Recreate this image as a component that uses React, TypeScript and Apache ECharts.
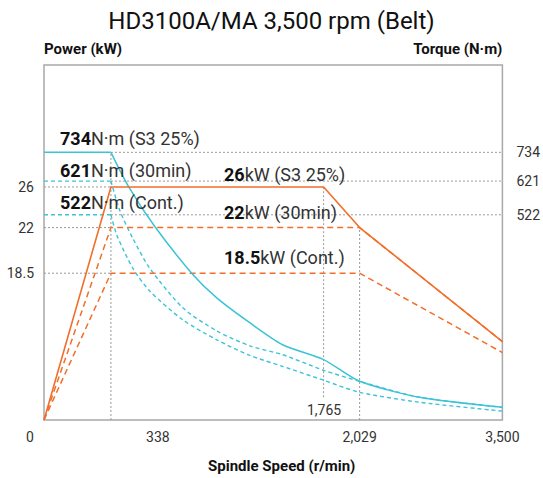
import React, { useEffect, useRef } from "react";
import * as echarts from "echarts";

const FONT = "Roboto, 'Noto Sans', 'DejaVu Sans', sans-serif";
const ORANGE = "#f26e2a";
const CYAN = "#3bc3d6";
const GUIDE = "#9a9a9a";

// Schematic speed axis (chart is not to scale): positions of the key speeds
const SPEED_MAX = 3500;
const SPEED_BASE = 511; // 338 r/min
const SPEED_TORQUE_BREAK = 2135; // 1,765 r/min
const SPEED_POWER_BREAK = 2410; // 2,029 r/min

const POWER_MAX = 40;
const TORQUE_MAX = 1000;

// Power levels as drawn (26 / 22 / 18.5 kW)
const POWER_LEVELS = [26.26, 21.68, 16.54];
const POWER_LABELS = ["26", "22", "18.5"];
// Torque levels as drawn (734 / 621 / 522 N·m)
const TORQUE_LEVELS = [754, 673, 578];
const TORQUE_LABELS = ["734", "621", "522"];

const X_TICK_VALUES = [0, 869, 2410, 3500];
const X_TICK_LABELS = ["0", "338", "2,029", "3,500"];

// Power curves [speed, kW]
const powerS3 = [[0, 0], [511, 26.26], [2135, 26.26], [2410, 21.68], [3500, 8.83]];
const power30 = [[0, 0], [511, 21.68], [2410, 21.68], [3500, 8.83]];
const powerCont = [[0, 0], [511, 16.54], [2410, 16.54], [3500, 7.6]];

// Torque curves [speed, N·m]
const torqueS3 = [
  [0, 754], [511, 754], [648, 656], [846, 545], [1129, 413], [1319, 344],
  [1571, 274], [1822, 212], [2135, 170], [2410, 109], [2867, 64], [3500, 36],
];
const torque30 = [
  [0, 673], [511, 673], [580, 589], [679, 511], [808, 427], [1060, 316], [1319, 251],
  [1571, 209], [1822, 184], [2135, 140], [2410, 109], [2867, 64], [3500, 36],
];
const torqueCont = [
  [0, 578], [511, 578], [557, 520], [679, 427], [808, 363], [1060, 282], [1319, 226],
  [1571, 182], [1822, 151], [2135, 112], [2410, 78], [2867, 50], [3500, 25],
];

const ANNOTATIONS = [
  { num: "734", unit: "N·m (S3 25%)", x: 60, y: 138 },
  { num: "621", unit: "N·m (30min)", x: 60, y: 170 },
  { num: "522", unit: "N·m (Cont.)", x: 60, y: 202 },
  { num: "26", unit: "kW (S3 25%)", x: 224, y: 174 },
  { num: "22", unit: "kW (30min)", x: 224, y: 212 },
  { num: "18.5", unit: "kW (Cont.)", x: 224, y: 257 },
];

function line(name: string, data: number[][], color: string, dash: any, width: number, yAxisIndex: number, z: number, smooth: number | boolean = false) {
  return {
    name,
    type: "line",
    data,
    yAxisIndex,
    symbol: "none",
    silent: true,
    smooth,
    z,
    lineStyle: { color, width, type: dash },
  };
}

// Flat part + smoothed decay part of a torque curve
function torqueLines(name: string, data: number[][], dash: any, width: number, z: number) {
  return [
    line(name + " flat", data.slice(0, 2), CYAN, dash, width, 1, z),
    line(name, data.slice(1), CYAN, dash, width, 1, z, 0.25),
  ];
}

function lookup(values: number[], labels: string[], v: number) {
  let best = 0;
  for (let i = 0; i < values.length; i++) {
    if (Math.abs(values[i] - v) < Math.abs(values[best] - v)) best = i;
  }
  return labels[best];
}

export default function App() {
  const ref = useRef<HTMLDivElement>(null);
  useEffect(() => {
    document.body.style.margin = "0";
    const chart = echarts.init(ref.current!, undefined, { renderer: "svg" });
    const guideDash = [2, 2];
    const series: any[] = [
      line("g338", [[SPEED_BASE, 0], [SPEED_BASE, TORQUE_LEVELS[0]]], GUIDE, guideDash, 1, 1, 1),
      line("g1765", [[SPEED_TORQUE_BREAK, 2.57], [SPEED_TORQUE_BREAK, POWER_LEVELS[0]]], GUIDE, guideDash, 1, 0, 1),
      line("g2029", [[SPEED_POWER_BREAK, 0], [SPEED_POWER_BREAK, POWER_LEVELS[1]]], GUIDE, guideDash, 1, 0, 1),
      ...TORQUE_LEVELS.map((t, i) => line("gt" + i, [[SPEED_BASE, t], [SPEED_MAX, t]], GUIDE, guideDash, 1, 1, 1)),
      ...POWER_LEVELS.map((p, i) => line("gp" + i, [[0, p], [SPEED_BASE, p]], GUIDE, guideDash, 1, 0, 1)),
      ...torqueLines("Torque Cont.", torqueCont, [4, 3], 1.4, 3),
      ...torqueLines("Torque 30min", torque30, [4, 3], 1.4, 3),
      ...torqueLines("Torque S3", torqueS3, "solid", 1.5, 4),
      line("Power Cont.", powerCont, ORANGE, [6, 4], 1.5, 0, 3),
      line("Power 30min", power30, ORANGE, [6, 4], 1.5, 0, 3),
      line("Power S3", powerS3, ORANGE, "solid", 1.6, 0, 4),
    ];

    const graphic: any[] = ANNOTATIONS.map((a) => ({
      type: "text",
      x: a.x,
      y: a.y,
      silent: true,
      z: 10,
      style: {
        text: `{b|${a.num}}{r|${a.unit}}`,
        verticalAlign: "middle",
        rich: {
          b: { fontFamily: FONT, fontSize: 18, fontWeight: "bold", fill: "#111" },
          r: { fontFamily: FONT, fontSize: 18, fill: "#333" },
        },
      },
    }));
    graphic.push({
      type: "text",
      x: 324,
      y: 410,
      silent: true,
      style: { text: "1,765", fontFamily: FONT, fontSize: 14, fill: "#333", align: "center", verticalAlign: "middle" },
    });

    chart.setOption({
      animation: false,
      title: {
        text: "HD3100A/MA 3,500 rpm (Belt)",
        left: "center",
        top: 4,
        textStyle: { fontFamily: FONT, fontSize: 24, fontWeight: "normal", color: "#111" },
      },
      grid: {
        left: 44, right: 40, top: 65, bottom: 55,
        show: true, borderColor: "#a8a8a8", borderWidth: 1.5, backgroundColor: "transparent",
      },
      xAxis: {
        type: "value",
        min: 0,
        max: SPEED_MAX,
        name: "Spindle Speed (r/min)",
        nameLocation: "middle",
        nameGap: 38,
        nameTextStyle: { fontFamily: FONT, fontSize: 15, fontWeight: "bold", color: "#111", padding: [0, 0, 0, 17] },
        axisLine: { show: false },
        axisTick: { show: false },
        splitLine: { show: false },
        axisLabel: {
          customValues: X_TICK_VALUES,
          margin: 10,
          fontFamily: FONT,
          fontSize: 14,
          color: "#333",
          formatter: (v: number) => {
            const s = lookup(X_TICK_VALUES, X_TICK_LABELS, v);
            return s === "0" ? "{z|0}" : s;
          },
          rich: { z: { fontFamily: FONT, fontSize: 14, color: "#333", padding: [0, 28, 0, 0] } },
        },
      },
      yAxis: [
        {
          type: "value",
          min: 0,
          max: POWER_MAX,
          position: "left",
          name: "Power (kW)",
          nameLocation: "end",
          nameGap: 9,
          nameTextStyle: { fontFamily: FONT, fontSize: 15, fontWeight: "bold", color: "#111", align: "left" },
          axisLine: { show: false },
          axisTick: { show: false },
          splitLine: { show: false },
          axisLabel: {
            customValues: POWER_LEVELS,
            margin: 10,
            fontFamily: FONT,
            fontSize: 14,
            color: "#333",
            padding: [0, 0, 10, 0],
            formatter: (v: number) => lookup(POWER_LEVELS, POWER_LABELS, v),
          },
        },
        {
          type: "value",
          min: 0,
          max: TORQUE_MAX,
          position: "right",
          name: "Torque (N·m)",
          nameLocation: "end",
          nameGap: 9,
          nameTextStyle: { fontFamily: FONT, fontSize: 15, fontWeight: "bold", color: "#111", align: "right" },
          axisLine: { show: false },
          axisTick: { show: false },
          splitLine: { show: false },
          axisLabel: {
            customValues: TORQUE_LEVELS,
            margin: 14,
            fontFamily: FONT,
            fontSize: 14,
            color: "#333",
            padding: [0, 0, 10, 0],
            formatter: (v: number) => lookup(TORQUE_LEVELS, TORQUE_LABELS, v),
          },
        },
      ],
      series,
      graphic,
    });
    return () => chart.dispose();
  }, []);
  return <div ref={ref} style={{ width: 543, height: 478 }} />;
}
